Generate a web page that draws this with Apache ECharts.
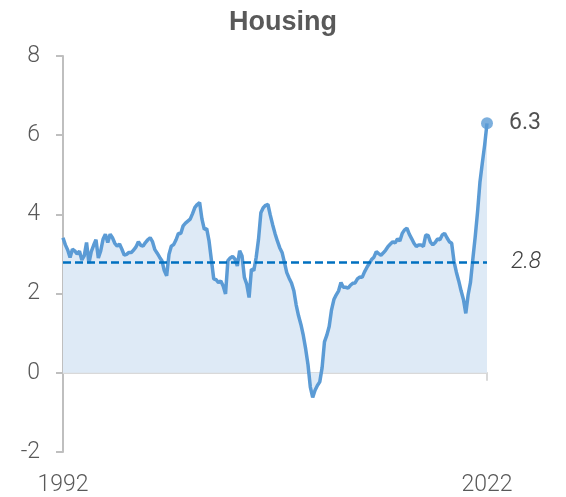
<!DOCTYPE html>
<html>
<head>
<meta charset="utf-8">
<script src="https://cdn.jsdelivr.net/npm/echarts@6/dist/echarts.min.js"></script>
<style>
  html, body { margin: 0; padding: 0; background: #fff; }
  #chart { width: 566px; height: 497px; }
</style>
</head>
<body>
<div id="chart"></div>
<script>
// bimonthly observations, Jan 1992 .. Jan 2022
const months = [];
for (let i = 0; i <= 180; i++) {
  const y = 1992 + Math.floor(i / 6);
  const m = (i % 6) * 2 + 1;
  months.push(y + "-" + (m < 10 ? "0" + m : m));
}
const housing = [
  3.41, 3.23, 3.10, 2.91, 3.12, 3.08, 3.00, 3.07, 2.85, 2.95,
  3.29, 2.77, 3.06, 3.22, 3.36, 2.90, 3.08, 3.37, 3.50, 3.29,
  3.50, 3.41, 3.27, 3.20, 3.25, 3.12, 2.97, 2.99, 3.04, 3.04,
  3.10, 3.18, 3.31, 3.22, 3.20, 3.29, 3.36, 3.41, 3.31, 3.11,
  3.02, 2.92, 2.83, 2.58, 2.45, 2.99, 3.20, 3.24, 3.36, 3.52,
  3.52, 3.71, 3.78, 3.83, 3.88, 4.02, 4.18, 4.25, 4.30, 3.88,
  3.62, 3.64, 3.33, 2.85, 2.37, 2.35, 2.28, 2.32, 2.19, 1.99,
  2.83, 2.90, 2.94, 2.87, 2.70, 3.08, 2.95, 2.41, 2.24, 1.90,
  2.62, 2.58, 2.91, 3.37, 4.04, 4.17, 4.23, 4.25, 3.98, 3.74,
  3.52, 3.33, 3.16, 3.04, 2.79, 2.53, 2.39, 2.27, 2.07, 1.71,
  1.44, 1.22, 0.95, 0.61, 0.21, -0.36, -0.62, -0.44, -0.32, -0.23,
  0.13, 0.78, 0.95, 1.17, 1.59, 1.85, 1.97, 2.07, 2.28, 2.16,
  2.16, 2.14, 2.21, 2.26, 2.27, 2.37, 2.42, 2.41, 2.55, 2.66,
  2.76, 2.86, 2.92, 3.06, 3.01, 2.97, 3.03, 3.10, 3.19, 3.25,
  3.31, 3.28, 3.38, 3.33, 3.52, 3.61, 3.65, 3.50, 3.39, 3.27,
  3.19, 3.23, 3.23, 3.19, 3.48, 3.47, 3.30, 3.23, 3.29, 3.38,
  3.36, 3.48, 3.52, 3.41, 3.31, 3.27, 2.81, 2.54, 2.32, 2.07,
  1.85, 1.50, 1.97, 2.29, 2.88, 3.44, 4.07, 4.81, 5.29, 5.75,
  6.30
];
const average = 2.8;
const yMin = -2, yMax = 8, yStep = 2;

const last = months.length - 1;
const grey = "#595959";
const numFont = "Roboto";

const chart = echarts.init(document.getElementById("chart"));
chart.setOption({
  animation: false,
  title: {
    text: "Housing",
    left: "center",
    top: 9,
    padding: [0, 0, 0, 12],
    textStyle: { fontFamily: "Liberation Sans", fontWeight: "bold", fontSize: 27, color: grey }
  },
  grid: { left: 63, right: 79, top: 56, bottom: 42 },
  xAxis: [
    {
      type: "category",
      data: months,
      boundaryGap: false,
      axisLine: { show: false, onZero: false },
      axisTick: { show: false },
      axisLabel: {
        interval: (idx) => idx === 0 || idx === last,
        formatter: (v) => v.slice(0, 4),
        margin: 22,
        fontFamily: numFont,
        fontWeight: 300,
        fontSize: 23,
        color: grey
      },
      splitLine: { show: false }
    },
    {
      type: "category",
      data: months,
      boundaryGap: false,
      position: "bottom",
      axisLine: { onZero: true, lineStyle: { color: "#d9d9d9", width: 2 } },
      axisTick: {
        show: true,
        interval: (idx) => idx === last,
        length: 8,
        lineStyle: { color: "#d9d9d9", width: 2 }
      },
      axisLabel: { show: false },
      splitLine: { show: false }
    }
  ],
  yAxis: {
    type: "value",
    min: yMin,
    max: yMax,
    interval: yStep,
    axisLine: { show: true, lineStyle: { color: "#bfbfbf", width: 2 } },
    axisTick: { show: true, length: 7, lineStyle: { color: "#bfbfbf", width: 2 } },
    axisLabel: { margin: 23, fontFamily: numFont, fontWeight: 300, fontSize: 23, color: grey },
    splitLine: { show: false }
  },
  series: [
    {
      type: "line",
      xAxisIndex: 0,
      data: housing,
      showSymbol: false,
      smooth: false,
      lineStyle: { color: "#5b9bd5", width: 3.5 },
      areaStyle: { color: "#deeaf6", opacity: 1 },
      markLine: {
        silent: true,
        symbol: "none",
        data: [{ yAxis: average }],
        lineStyle: { color: "#0070c0", width: 2.5, type: [8, 4] },
        label: {
          position: "end",
          distance: 24,
          formatter: () => average.toFixed(1),
          fontFamily: numFont,
          fontWeight: 300,
          fontStyle: "italic",
          fontSize: 23,
          color: "#404040"
        }
      },
      z: 2
    },
    {
      type: "scatter",
      xAxisIndex: 0,
      data: [[months[last], housing[last]]],
      symbol: "circle",
      symbolSize: 12,
      itemStyle: { color: "#5b9bd5" },
      label: {
        show: true,
        position: "right",
        distance: 16,
        formatter: (p) => p.value[1].toFixed(1),
        fontFamily: numFont,
        fontSize: 23,
        color: "#262626"
      },
      z: 3
    }
  ]
});
</script>
</body>
</html>
